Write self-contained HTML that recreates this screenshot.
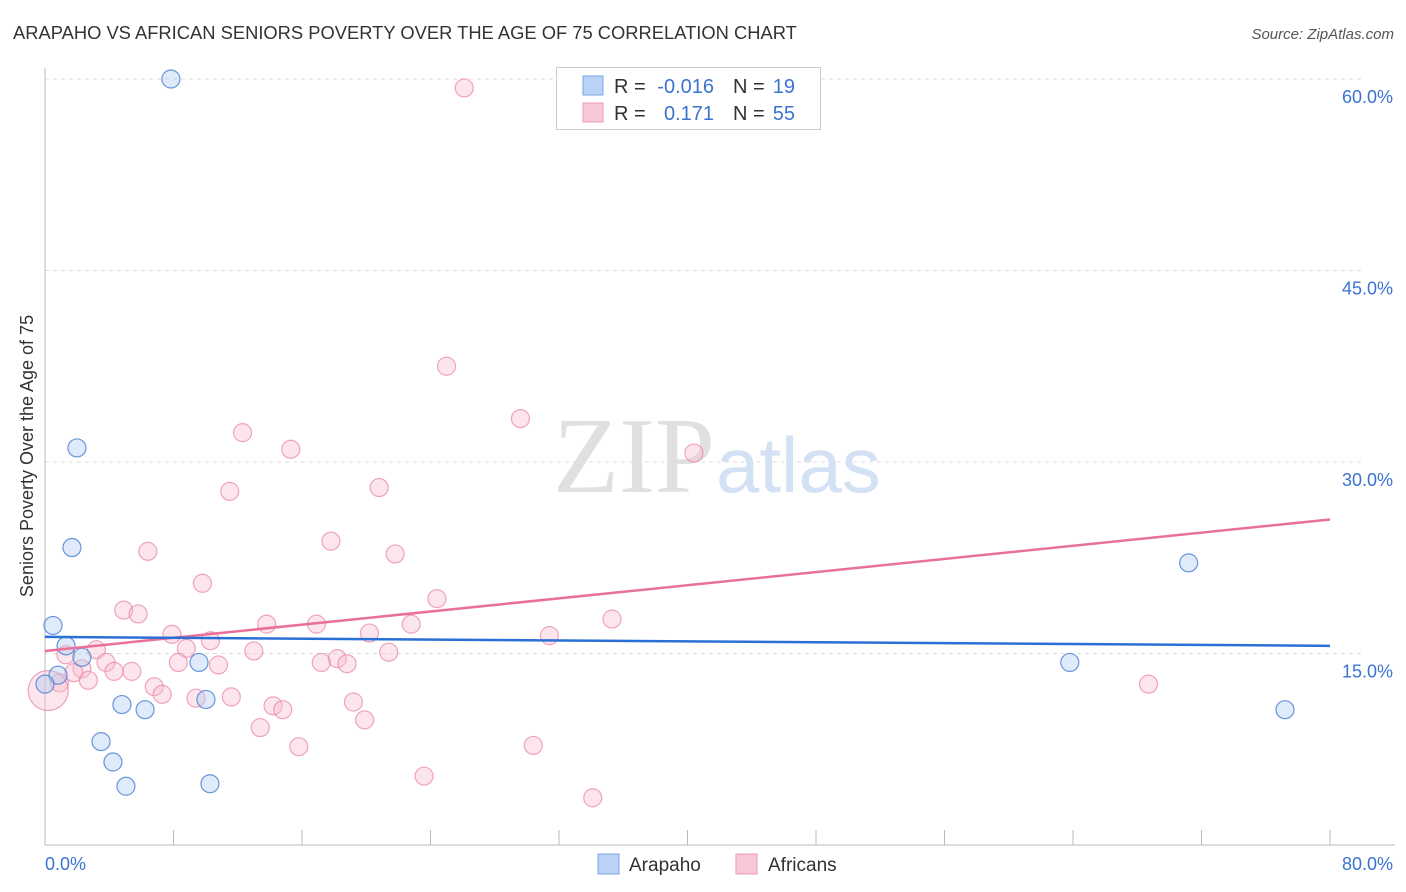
<!DOCTYPE html>
<html><head><meta charset="utf-8"><style>
body{margin:0;background:#fff;font-family:"Liberation Sans",sans-serif;}
svg{display:block}
</style></head><body>
<svg id="chart" width="1406" height="892">
<text x="13" y="39" font-size="18.35" fill="#333">ARAPAHO VS AFRICAN SENIORS POVERTY OVER THE AGE OF 75 CORRELATION CHART</text>
<text x="1394" y="39" font-size="15" fill="#555" font-style="italic" text-anchor="end">Source: ZipAtlas.com</text>
<text transform="translate(33,456) rotate(-90)" font-size="18" fill="#333" text-anchor="middle">Seniors Poverty Over the Age of 75</text>
<g id="grid"></g>
<text x="553" y="492" font-size="108" fill="#e0e0e0" font-family="Liberation Serif,serif">ZIP</text>
<text x="716" y="492" font-size="78" fill="#d3e1f5">atlas</text>
<g id="points"></g>
<g id="lines"></g>
<g>
<rect x="556.5" y="67.5" width="264" height="62" fill="#fff" stroke="#ccc"/>
<rect x="583" y="76" width="20" height="19" fill="#b9d2f5" stroke="#7aa6e6"/>
<rect x="583" y="103" width="20" height="19" fill="#f9c8d6" stroke="#eb9ab2"/>
<text x="614" y="93" font-size="20" fill="#333">R = </text>
<text x="714" y="93" font-size="20" fill="#3b73d1" text-anchor="end">-0.016</text>
<text x="733" y="93" font-size="20" fill="#333">N = </text>
<text x="795" y="93" font-size="20" fill="#3b73d1" text-anchor="end">19</text>
<text x="614" y="120" font-size="20" fill="#333">R = </text>
<text x="714" y="120" font-size="20" fill="#3b73d1" text-anchor="end">0.171</text>
<text x="733" y="120" font-size="20" fill="#333">N = </text>
<text x="795" y="120" font-size="20" fill="#3b73d1" text-anchor="end">55</text>
</g>
<g>
<rect x="598" y="854" width="21" height="20" fill="#b9d2f5" stroke="#7aa6e6"/>
<text x="629" y="871" font-size="19" fill="#333">Arapaho</text>
<text x="768" y="871" font-size="19" fill="#333">Africans</text>
<rect x="736" y="854" width="21" height="20" fill="#f9c8d6" stroke="#eb9ab2"/>
</g>
</svg>
<script>
const xTicks=[0,80];
const yTicks=[15,30,45,60];
const blueX=[7.84,1.99,1.68,0.50,1.31,2.30,0.81,0,9.59,4.79,6.23,10.02,3.49,4.23,5.04,10.27,71.2,63.8,77.2];
const blueY=[60.0,31.1,23.3,17.2,15.6,14.7,13.3,12.6,14.3,11.0,10.6,11.4,8.1,6.5,4.6,4.8,22.1,14.3,10.6];
const pinkX=[26.1,25.0,29.6,12.3,15.3,40.4,11.5,20.8,17.8,6.4,21.8,9.8,24.4,4.9,5.8,35.3,13.8,16.9,22.8,7.9,20.2,31.4,3.2,1.3,8.8,10.3,13.0,21.4,18.2,17.2,18.8,8.3,10.8,3.8,2.3,5.4,4.3,1.8,2.7,0.9,6.8,7.3,9.4,11.6,19.2,14.2,14.8,19.9,13.4,68.7,15.8,30.4,23.6,34.1,0.2];
const pinkY=[59.3,37.5,33.4,32.3,31.0,30.7,27.7,28.0,23.8,23.0,22.8,20.5,19.3,18.4,18.1,17.7,17.3,17.3,17.3,16.5,16.6,16.4,15.3,14.9,15.4,16.0,15.2,15.1,14.6,14.3,14.2,14.3,14.1,14.3,13.8,13.6,13.6,13.5,12.9,12.7,12.4,11.8,11.5,11.6,11.2,10.9,10.6,9.8,9.2,12.6,7.7,7.8,5.4,3.7,12.1];
const blueTrend=[16.3,15.6];
const pinkTrend=[15.2,25.5];
const NS='http://www.w3.org/2000/svg';
const X=v=>45+v/80*1285;
const Y=v=>845-v/15*191.5;
function mk(tag,attrs,parent){const e=document.createElementNS(NS,tag);for(const k in attrs)e.setAttribute(k,attrs[k]);parent.appendChild(e);return e;}
const grid=document.getElementById('grid');
yTicks.forEach(t=>{
 const l=mk('line',{x1:45,x2:1365,y1:Y(t),y2:Y(t),stroke:'#ddd','stroke-dasharray':'4,4'},grid);
 
 
 const tx=mk('text',{x:1393,y:Y(t)+24,'font-size':18,fill:'#3b73d1','text-anchor':'end'},grid);
 tx.textContent=t.toFixed(1)+'%';
 
 
});
mk('line',{x1:45,x2:45,y1:68,y2:845,stroke:'#bbb'},grid);
mk('line',{x1:45,x2:1395,y1:845,y2:845,stroke:'#bbb'},grid);
for(let i=0;i<=10;i++){const t=mk('line',{x1:X(i*8),x2:X(i*8),y1:830,y2:845,stroke:'#bbb'},grid);
 
 }
xTicks.forEach((t,i)=>{const tx=mk('text',{x:i?1393:45,y:870,'font-size':18,fill:'#3b73d1','text-anchor':i?'end':'start'},grid);
 tx.textContent=t.toFixed(1)+'%';
 
 });
const pts=document.getElementById('points');
pinkX.forEach((v,i)=>{const c=mk('circle',{cx:X(v),cy:Y(pinkY[i]),r:i==pinkX.length-1?20:9,fill:'rgba(248,190,208,0.4)',stroke:'rgba(232,130,162,0.7)','stroke-width':1.2},pts);
 
 });
blueX.forEach((v,i)=>{const c=mk('circle',{cx:X(v),cy:Y(blueY[i]),r:9,fill:'rgba(175,203,242,0.4)',stroke:'rgba(70,125,210,0.8)','stroke-width':1.2},pts);
 
 });
const ln=document.getElementById('lines');
const pl=mk('line',{x1:X(0),x2:X(80),y1:Y(pinkTrend[0]),y2:Y(pinkTrend[1]),stroke:'#e8709a','stroke-width':2.5},ln);


const bl=mk('line',{x1:X(0),x2:X(80),y1:Y(blueTrend[0]),y2:Y(blueTrend[1]),stroke:'#2a6fd6','stroke-width':2.5},ln);


</script>
</body></html>
